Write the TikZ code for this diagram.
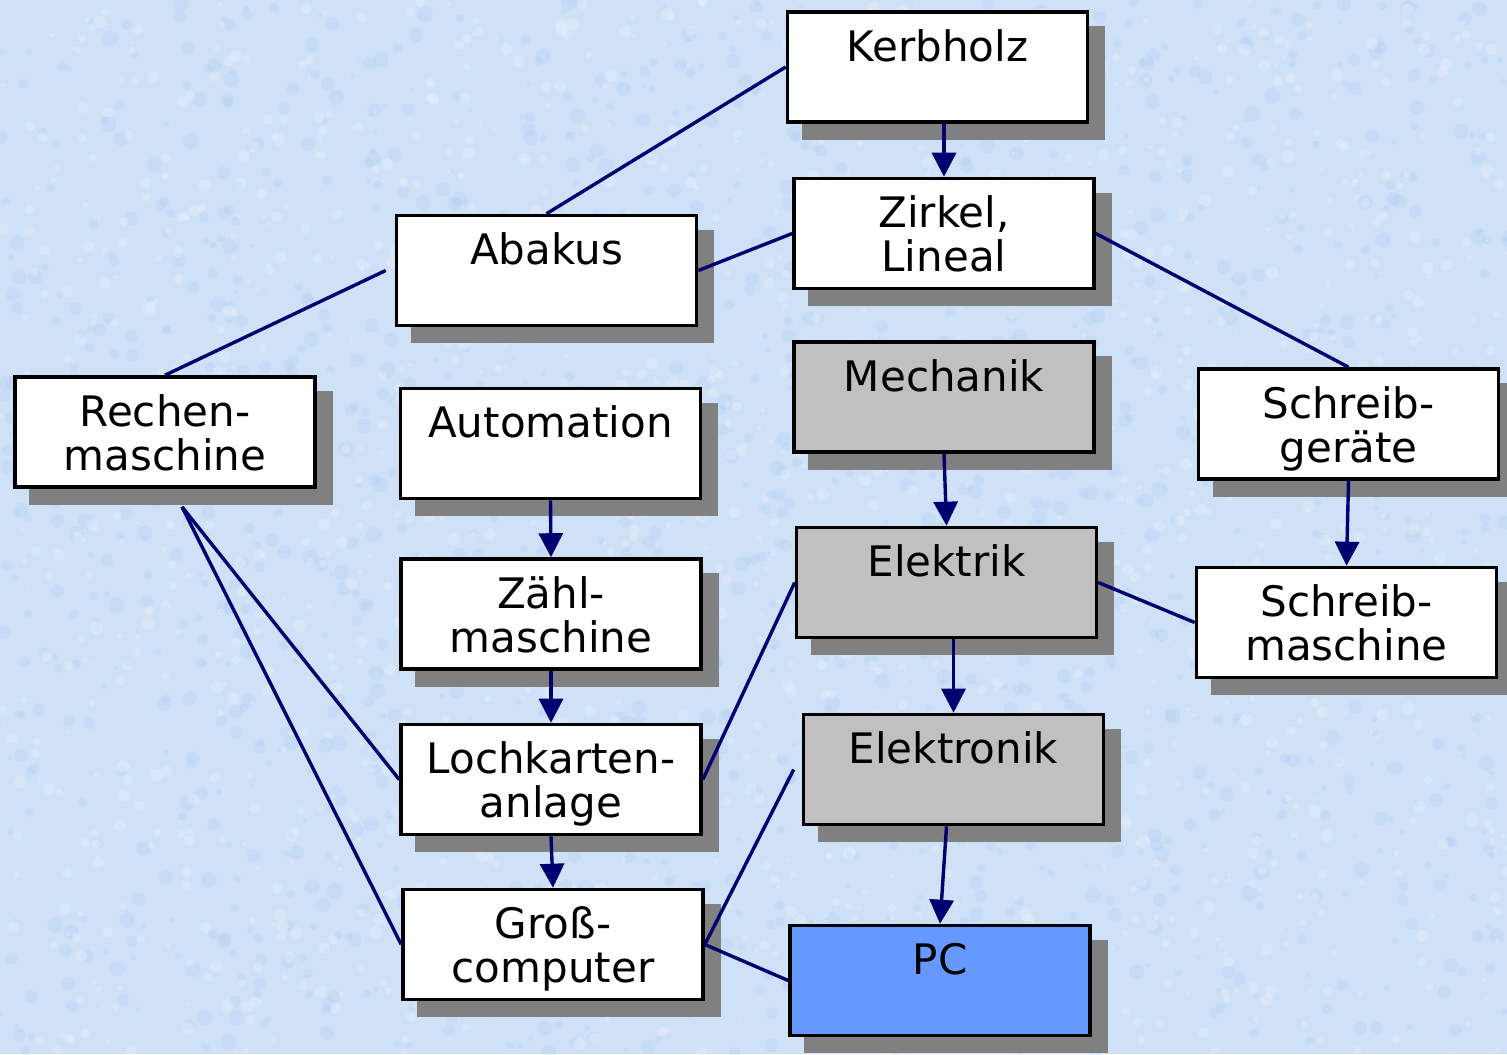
\documentclass[tikz,border=0pt]{standalone}
\usepackage{fontspec}
\setmainfont{DejaVu Sans}
\usetikzlibrary{arrows.meta,shadows,calc}
\definecolor{bgblue}{RGB}{206,225,247}
\definecolor{bgdark}{RGB}{178,208,244}
\definecolor{bglight}{RGB}{238,240,252}
\definecolor{shadegray}{RGB}{128,128,128}
\definecolor{navyline}{RGB}{0,0,112}
\definecolor{grayfill}{RGB}{192,192,192}
\definecolor{pcblue}{RGB}{102,153,255}
\begin{document}
\begin{tikzpicture}[x=0.5pt,y=-0.5pt,
  box/.style={draw=black, line width=1.8pt, fill=white, minimum width=150pt,
    minimum height=55pt, inner sep=0pt,
    drop shadow={shadow xshift=8pt, shadow yshift=-8pt, fill=shadegray,
      draw=shadegray, line width=1.8pt, opacity=1}},
  graybox/.style={box, fill=grayfill},
  pcbox/.style={box, fill=pcblue},
  lbl/.style={anchor=base, align=center, inner sep=0pt,
    font=\fontsize{21pt}{22pt}\selectfont},
  wire/.style={draw=navyline, line width=1.7pt},
  arr/.style={wire, -{Triangle[length=12pt,width=12pt]}}]
\fill[bgblue] (0,0) rectangle (1507,1054);
\begin{scope}
\clip (0,0) rectangle (1507,1054);
\pgfmathsetseed{7}
\foreach \i in {1,...,1600}{
  \pgfmathsetmacro{\px}{rnd*1507}
  \pgfmathsetmacro{\py}{rnd*1054}
  \pgfmathsetmacro{\pr}{2+rnd*6}
  \fill[bgdark, opacity=0.3] (\px,\py) circle[radius=\pr];
}
\foreach \i in {1,...,1600}{
  \pgfmathsetmacro{\px}{rnd*1507}
  \pgfmathsetmacro{\py}{rnd*1054}
  \pgfmathsetmacro{\pr}{1.5+rnd*5}
  \fill[bglight, opacity=0.35] (\px,\py) circle[radius=\pr];
}
\end{scope}
\useasboundingbox (0,0) rectangle (1507,1054);

% boxes
\node[box]     (kerb) at (937.5,67)    {};
\node[box]     (zirk) at (944,233.5)   {};
\node[box]     (abak) at (546.5,270.5) {};
\node[graybox] (mech) at (944,397)     {};
\node[box]     (schg) at (1348.5,424)  {};
\node[box]     (rech) at (165,432)     {};
\node[box]     (auto) at (550.5,443.5) {};
\node[graybox] (elek) at (946.5,582.5) {};
\node[box]     (zahl) at (551,614)     {};
\node[box]     (schm) at (1346.5,622.5){};
\node[graybox] (elno) at (953.5,769.5) {};
\node[box]     (loch) at (551,779.5)   {};
\node[box]     (gros) at (553,944.5)   {};
\node[pcbox]   (pc)   at (940,980.5)   {};

% labels (base anchor = last line)
\node[lbl] (kerb-t) at ([yshift=-25.5pt]kerb.north) {Kerbholz};
\node[lbl] (zirk-t) at ([yshift=-47.5pt]zirk.north) {Zirkel,\\Lineal};
\node[lbl] (abak-t) at ([yshift=-25.5pt]abak.north) {Abakus};
\node[lbl] (mech-t) at ([yshift=-25.5pt]mech.north) {Mechanik};
\node[lbl] (schg-t) at ([yshift=-47.5pt]schg.north) {Schreib-\\geräte};
\node[lbl] (rech-t) at ([yshift=-47.5pt]rech.north) {Rechen-\\maschine};
\node[lbl] (auto-t) at ([yshift=-25.5pt]auto.north) {Automation};
\node[lbl] (elek-t) at ([yshift=-25.5pt]elek.north) {Elektrik};
\node[lbl] (zahl-t) at ([yshift=-47.5pt]zahl.north) {Zähl-\\maschine};
\node[lbl] (schm-t) at ([yshift=-47.5pt]schm.north) {Schreib-\\maschine};
\node[lbl] (elno-t) at ([yshift=-25.5pt]elno.north) {Elektronik};
\node[lbl] (loch-t) at ([yshift=-47.5pt]loch.north) {Lochkarten-\\anlage};
\node[lbl] (gros-t) at ([yshift=-47.5pt]gros.north) {Groß-\\computer};
\node[lbl] (pc-t)   at ([yshift=-25.5pt]pc.north)   {PC};

% connectors
\coordinate (rs) at ($(rech.south)+(17,18)$);
\draw[wire] (kerb.west) -- (abak.north);
\draw[arr] (zirk.north |- kerb.south) -- (zirk.north);
\draw[wire] (abak.east) -- (zirk.west);
\draw[wire] (zirk.east) -- (schg.north);
\draw[wire] ($(abak.west)+(-9,0)$) -- (rech.north);
\draw[arr] (mech.south) -- (elek.north);
\draw[arr] (schg.south) -- (schm.north);
\draw[arr] (auto.south) -- (zahl.north);
\draw[arr] (zahl.south) -- (loch.north);
\draw[arr] (loch.south) -- (gros.north);
\draw[wire] (rs) -- (loch.west);
\draw[wire] (rs) -- (gros.west);
\draw[wire] (elek.west) -- (loch.east);
\draw[wire] (elek.east) -- (schm.west);
\draw[arr] (elno.north |- elek.south) -- (elno.north);
\draw[arr] ($(elno.south)+(-7,0)$) -- (pc.north);
\draw[wire] ($(elno.west)+(-8,0)$) -- (gros.east);
\draw[wire] (gros.east) -- (pc.west);
\end{tikzpicture}
\end{document}
